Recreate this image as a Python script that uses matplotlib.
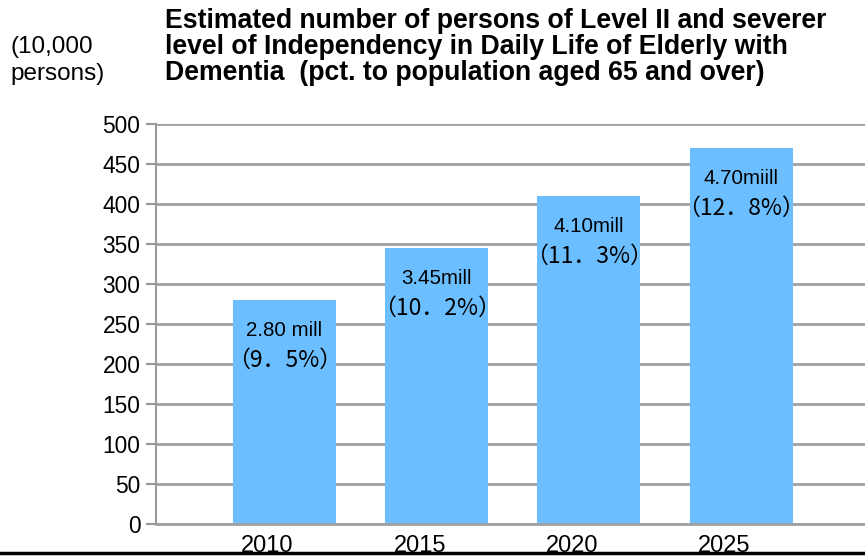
import numpy as np
import matplotlib.pyplot as plt

years = ['2010', '2015', '2020', '2025']
persons = [280, 345, 410, 470]
mill_labels = ['2.80 mill', '3.45mill', '4.10mill', '4.70miill']
pct_labels = ['（9．5%）', '（10．2%）', '（11．3%）', '（12．8%）']

plt.rcParams['font.family'] = ['Liberation Sans', 'DejaVu Sans']

fig = plt.figure(figsize=(8.65, 5.57), dpi=100)
ax = fig.add_axes([0.180, 0.059, 0.82, 0.718])

x = np.arange(len(years))
ax.bar(x, persons, width=0.676, color='#6BBEFF', zorder=2)

ax.set_xlim(-0.844, 3.813)
ax.set_ylim(0, 500)
ax.set_yticks(np.arange(0, 501, 50))
ax.tick_params(axis='y', labelsize=16.4, length=7, color='#999999', width=1.5, pad=4)
ax.tick_params(axis='x', length=0)
ax.set_xticks([])
ax.grid(axis='y', color='#A0A0A0', linewidth=2, zorder=1)
for s in ['top', 'right']:
    ax.spines[s].set_visible(False)
ax.spines['left'].set_color('#999999')
ax.spines['left'].set_linewidth(1.5)
ax.spines['bottom'].set_color('#A0A0A0')
ax.spines['bottom'].set_linewidth(2)

# year labels, a bit left of the bar centres like the original
for i, yr in enumerate(years):
    ax.text(i - 0.11, -27, yr, ha='center', va='center', fontsize=17)

for i, v in enumerate(persons):
    ax.annotate(mill_labels[i], (i, v), xytext=(0, -22), textcoords='offset points',
                ha='center', va='center', fontsize=14.8,
                family=['Liberation Sans', 'DejaVu Sans'])
    ax.annotate(pct_labels[i], (i, v), xytext=(0, -43), textcoords='offset points',
                ha='center', va='center', fontsize=16.5,
                family=['Noto Sans CJK JP', 'DejaVu Sans'])

fig.text(0.191, 0.916, 'Estimated number of persons of Level II and severer\n'
         'level of Independency in Daily Life of Elderly with\n'
         'Dementia  (pct. to population aged 65 and over)',
         fontsize=19.2, fontweight='bold', ha='left', va='center', linespacing=0.99)
fig.text(0.012, 0.892, '(10,000\npersons)', fontsize=17.5, ha='left', va='center',
         linespacing=1.3)

# black rule along the bottom
fig.add_artist(plt.Line2D([0, 1], [0.007, 0.007], color='black', linewidth=2.5,
                          transform=fig.transFigure))

fig.savefig('out.png', dpi=100)
